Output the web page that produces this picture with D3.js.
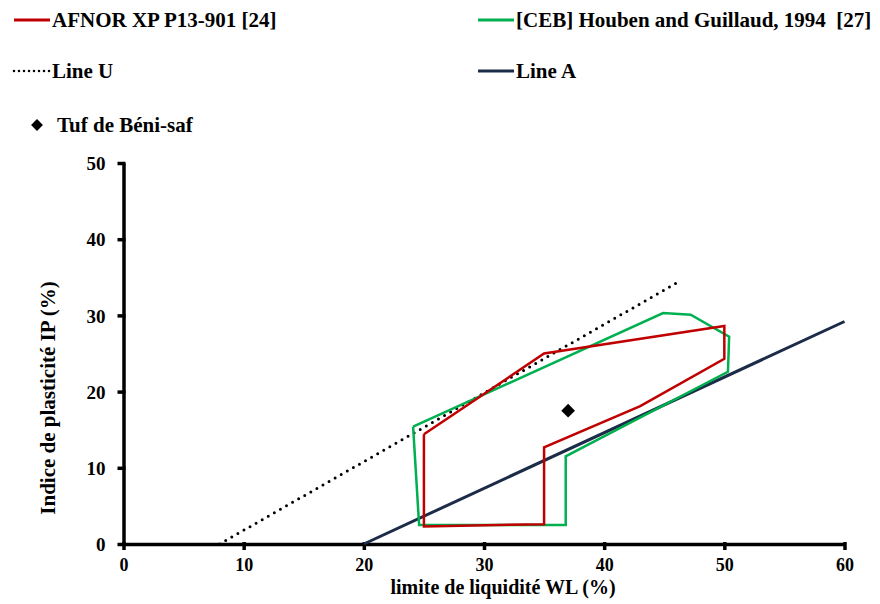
<!DOCTYPE html>
<html>
<head>
<meta charset="utf-8">
<style>
  body { margin: 0; background: #fff; }
  svg text { font-family: "Liberation Serif", "Times New Roman", serif; font-weight: bold; fill: #000; }
</style>
</head>
<body>
<svg id="chart" width="880" height="604"></svg>
<script src="https://cdn.jsdelivr.net/npm/d3@7"></script>
<script>
// WL (%) / IP (%) pairs
var afnorWL = [25, 35, 50, 50, 43, 35, 35, 25, 25];
var afnorIP = [14.4, 25.0, 28.6, 24.3, 18.1, 12.7, 2.6, 2.3, 14.4];

var cebWL = [24.1, 44.9, 47.2, 50.4, 50.3, 36.8, 36.8, 24.6, 24.1];
var cebIP = [15.4, 30.3, 30.1, 27.2, 22.6, 11.5, 2.5, 2.5, 15.4];

var lineUWL = [8, 46.3];
var lineUIP = [0, 34.5];
var lineAWL = [20, 60];
var lineAIP = [0, 29.2];

var tufWL = [37];
var tufIP = [17.5];

var xTicks = [0, 10, 20, 30, 40, 50, 60];
var yTicks = [0, 10, 20, 30, 40, 50];

var svg = d3.select('#chart');

var x = d3.scaleLinear().domain([0, 60]).range([123.5, 844.5]);
var y = d3.scaleLinear().domain([0, 50]).range([544, 163]);

function pts(xs, ys) { return xs.map(function(v, i) { return [v, ys[i]]; }); }
var line = d3.line().x(function(d) { return x(d[0]); }).y(function(d) { return y(d[1]); });

// axes
var xAxis = svg.append('g').attr('transform', 'translate(0,544)')
  .call(d3.axisBottom(x).tickValues(xTicks).tickSize(6).tickPadding(8).tickSizeOuter(0));
var yAxis = svg.append('g').attr('transform', 'translate(123.5,0)')
  .call(d3.axisLeft(y).tickValues(yTicks).tickSize(6).tickPadding(12).tickSizeOuter(0));
[xAxis, yAxis].forEach(function(a) {
  a.select('.domain').attr('stroke', '#000').attr('stroke-width', 3.5);
  a.selectAll('.tick line').attr('stroke', '#000').attr('stroke-width', 3.5);
  a.selectAll('.tick text').style('font-family', '"Liberation Serif", serif')
    .style('font-weight', 'bold').style('font-size', '19px').attr('fill', '#000');
});
xAxis.selectAll('.tick text').style('font-size', '18px');
xAxis.selectAll('.tick line').attr('y1', -2);
yAxis.selectAll('.tick line').attr('x1', 2);
yAxis.selectAll('.tick text').attr('dy', '0.35em');

// lines
svg.append('path').datum(pts(lineUWL, lineUIP)).attr('d', line)
  .attr('fill', 'none').attr('stroke', '#000').attr('stroke-width', 3)
  .attr('stroke-linecap', 'round').attr('stroke-dasharray', '0 7');
svg.append('path').datum(pts(lineAWL, lineAIP)).attr('d', line)
  .attr('fill', 'none').attr('stroke', '#1c2b48').attr('stroke-width', 3);
svg.append('path').datum(pts(cebWL, cebIP)).attr('d', line)
  .attr('fill', 'none').attr('stroke', '#00b050').attr('stroke-width', 2.5);
svg.append('path').datum(pts(afnorWL, afnorIP)).attr('d', line)
  .attr('fill', 'none').attr('stroke', '#c00000').attr('stroke-width', 2.5);

svg.selectAll('.tuf').data(pts(tufWL, tufIP)).enter().append('path')
  .attr('class', 'tuf')
  .attr('d', d3.symbol().type(d3.symbolDiamond2).size(120))
  .attr('transform', function(d) { return 'translate(' + x(d[0]) + ',' + y(d[1]) + ')'; })
  .attr('fill', '#000');

// axis titles
svg.append('text').attr('x', 503).attr('y', 594).attr('text-anchor', 'middle')
  .style('font-size', '20px').text('limite de liquidité WL (%)');
svg.append('text').attr('transform', 'translate(55,398) rotate(-90)').attr('text-anchor', 'middle')
  .style('font-size', '21px').text('Indice de plasticité IP (%)');

// legend
var legend = [
  { label: 'AFNOR XP P13-901 [24]', color: '#c00000', dash: null, lx: 12, ly: 20 },
  { label: '[CEB] Houben and Guillaud, 1994  [27]', color: '#00b050', dash: null, lx: 476, ly: 20 },
  { label: 'Line U', color: '#000', dash: '0 5', lx: 12, ly: 71 },
  { label: 'Line A', color: '#1c2b48', dash: null, lx: 476, ly: 71 }
];
legend.forEach(function(l) {
  svg.append('line').attr('x1', l.lx + 2).attr('x2', l.lx + 38).attr('y1', l.ly).attr('y2', l.ly)
    .attr('stroke', l.color).attr('stroke-width', l.dash ? 2.5 : 3)
    .attr('stroke-linecap', l.dash ? 'round' : 'butt')
    .attr('stroke-dasharray', l.dash);
  svg.append('text').attr('x', l.lx + 40).attr('y', l.ly + 7)
    .style('font-size', '21px').style('white-space', 'pre').text(l.label);
});
svg.append('path').attr('d', d3.symbol().type(d3.symbolDiamond2).size(90))
  .attr('transform', 'translate(37,125)').attr('fill', '#000');
svg.append('text').attr('x', 57).attr('y', 132).style('font-size', '21px').text('Tuf de Béni-saf');
</script>
</body>
</html>
